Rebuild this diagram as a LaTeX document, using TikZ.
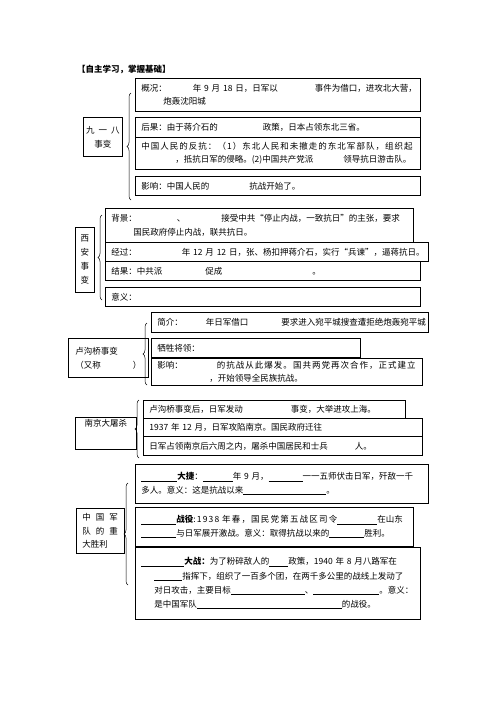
\documentclass[tikz,border=0pt]{standalone}
\usepackage{fontspec}
\newfontfamily\cjk{Noto Sans CJK SC}
\newfontfamily\cjkwide[LetterSpace=12]{Noto Sans CJK SC}
\newfontfamily\cjkwider[LetterSpace=14]{Noto Sans CJK SC}
\usetikzlibrary{positioning,decorations.pathreplacing}
\newcommand\blank[1]{\rule[-1.5pt]{#1pt}{0.6pt}}
\newcommand\gap[1]{\hspace*{#1pt}}
\tikzset{
cell/.style={draw,line width=0.7pt,anchor=north west,inner xsep=6pt,inner ysep=0pt,
align=left,font=\cjk\fontsize{8.5}{13.5}\selectfont},
topic/.style={draw,line width=0.7pt,anchor=north west,inner xsep=0pt,inner ysep=0pt,
font=\cjk\fontsize{8.5}{14}\selectfont},
curly/.style={decorate,decoration={brace,amplitude=4pt},line width=0.5pt}
}
\begin{document}
\begin{tikzpicture}[x=1pt, y=-1pt]
\useasboundingbox (0,0) rectangle (496,702);
\fill[white] (0,0) rectangle (496,702);

\node[anchor=west,inner sep=0pt,font=\cjk\bfseries\fontsize{8.5}{10}\selectfont] (title) at (77,69) {【自主学习，掌握基础】};

% 九一八事变
\node[topic,minimum width=39pt,minimum height=39pt,align=center] (jyb) at (83,117) {九\gap{4}一\gap{4}八\\事变};
\node[cell,text width=273pt,minimum height=33pt] (a1) at (135,78)
{\mbox{概况：\gap{26}年 9 月 18 日，日军以\gap{37}事件为借口，进攻北大营，}\\\mbox{\gap{22}炮轰沈阳城}};
\node[cell,text width=273pt,minimum height=20pt] (a2) at (135,117)
{\mbox{后果：由于蒋介石的\gap{45}政策，日本占领东北三省。}};
\node[cell,text width=273pt,minimum height=32pt] (a3) at (135,137)
{\mbox{\cjkwide 中国人民的反抗：（1）东北人民和未撤走的东北军部队，组织起}\\\mbox{\gap{34}，抵抗日军的侵略。(2)中国共产党派\gap{30}领导抗日游击队。}};
\node[cell,text width=273pt,minimum height=19pt] (a4) at (135,176)
{\mbox{影响：中国人民的\gap{40}抗战开始了。}};
\coordinate (ja) at (131,200);
\coordinate (jb) at (131,93);
\draw[curly] (ja) -- (jb);

% 西安事变
\node[topic,minimum width=19pt,minimum height=65pt,align=center] (xa) at (75,227) {西\\安\\事\\变};
\node[cell,text width=296pt,minimum height=34pt] (b1) at (105,208)
{\mbox{背景：\gap{40}、\gap{36}接受中共“停止内战，一致抗日”的主张，要求}\\\mbox{\gap{22}国民政府停止内战，联共抗日。}};
\node[cell,text width=311pt,minimum height=19pt] (b2) at (105,242)
{\mbox{经过：\gap{45}年 12 月 12 日，张、杨扣押蒋介石，实行“兵谏”，逼蒋抗日。}};
\node[cell,text width=303pt,minimum height=19pt] (b3) at (105,261)
{\mbox{结果：中共派\gap{43}促成\gap{90}。}};
\node[cell,text width=303pt,minimum height=19pt] (b4) at (105,287)
{意义：};
\coordinate (xb) at (102,300);
\coordinate (xc) at (102,215);
\draw[curly] (xb) -- (xc);

% 卢沟桥事变
\node[topic,minimum width=74pt,minimum height=39pt,align=left,inner xsep=7pt] (lgq) at (68,338)
{卢沟桥事变\\\mbox{（又称\gap{32}）}};
\node[cell,text width=265pt,minimum height=20pt] (c1) at (151,312)
{\mbox{简介：\gap{23}年日军借口\gap{33}要求进入宛平城搜查遭拒绝炮轰宛平城}};
\node[cell,text width=197pt,minimum height=19pt] (c2) at (151,338)
{牺牲将领：};
\node[cell,text width=259pt,minimum height=27pt] (c3) at (151,358)
{\mbox{影响：\gap{34}{\cjkwide 的抗战从此爆发。国共两党再次合作，正式建立}}\\\mbox{\gap{52}，开始领导全民族抗战。}};
\coordinate (la) at (147,385);
\coordinate (lb) at (147,323);
\draw[curly] (la) -- (lb);

% 南京大屠杀
\node[topic,minimum width=61pt,align=left,inner xsep=7pt,inner ysep=2pt,text height=7pt,text depth=21pt] (nj) at (75,417)
{南京大屠杀};
\node[cell,text width=250pt,minimum height=18pt] (d1) at (143,400)
{\mbox{卢沟桥事变后，日军发动\gap{48}事变，大举进攻上海。}};
\node[cell,text width=267pt,minimum height=18pt] (d2) at (143,418)
{\mbox{1937 年 12 月，日军攻陷南京。国民政府迁往}};
\node[cell,text width=267pt,minimum height=19pt] (d3) at (143,436)
{\mbox{日军占领南京后六周之内，屠杀中国居民和士兵\gap{27}人。}};
\coordinate (na) at (139,458);
\coordinate (nb) at (139,400);
\draw[curly] (na) -- (nb);

% 中国军队的重大胜利
\node[topic,minimum width=43pt,minimum height=45pt,align=left,inner xsep=6pt,font=\cjk\fontsize{8.5}{13.5}\selectfont] (sl) at (76,508)
{\mbox{中\gap{5}国\gap{5}军}\\\mbox{队\gap{5}的\gap{5}重}\\大胜利};
\node[cell,text width=281pt,minimum height=39pt] (e1) at (135,464)
{\mbox{\blank{36}\textbf{大捷}：\blank{30}年 9 月，\blank{34}一一五师伏击日军，歼敌一千}\\\mbox{多人。意义：这是抗战以来\blank{83}。}};
\node[cell,text width=266pt,minimum height=39pt] (e2) at (135,507)
{\mbox{\blank{35}\textbf{战役}{\cjkwider :1938 年春，国民党第五战区司令}\blank{40}在山东}\\\mbox{\blank{35}与日军展开激战。意义：取得抗战以来的\blank{35}胜利。}};
\node[cell,text width=273pt,minimum height=72pt,font=\cjk\fontsize{8.5}{14.2}\selectfont] (e3) at (135,547)
{\mbox{\blank{43}\textbf{大战：}为了粉碎敌人的\blank{19}政策，1940 年 8 月八路军在}\\\mbox{\gap{13}\blank{28}指挥下，组织了一百多个团，在两千多公里的战线上发动了}\\\mbox{\gap{13}对日攻击，主要目标\blank{74}、\blank{66}。意义：}\\\mbox{\gap{13}是中国军队\blank{145}的战役。}};
\coordinate (ea) at (128,585);
\coordinate (eb) at (128,483);
\draw[curly] (ea) -- (eb);

\end{tikzpicture}
\end{document}
